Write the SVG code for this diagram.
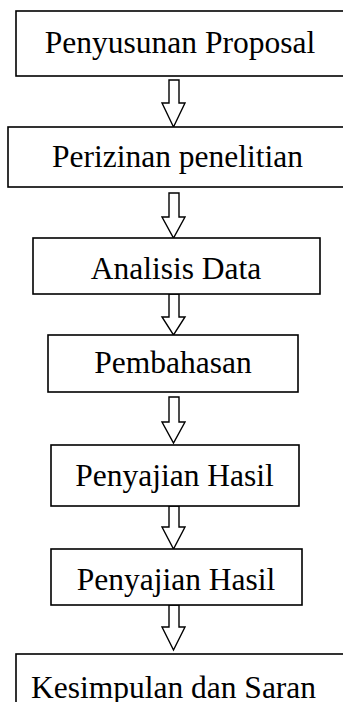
<svg xmlns="http://www.w3.org/2000/svg" width="343" height="702" viewBox="0 0 343 702">
<style>
.box{fill:#fff;stroke:#000;stroke-width:1.6}
.arr{fill:#fff;stroke:#000;stroke-width:1.4;stroke-linejoin:miter}
text{font-family:"Liberation Serif","Times New Roman",serif;font-size:31.5px;fill:#000;text-anchor:middle}
</style>
<rect width="343" height="702" fill="#fff"/>
<g id="connectors">
<path class="arr" d="M169,80H179V103H185L173.5,127L162,103H169Z"/>
<path class="arr" d="M169,193H179V217H185L173.5,238L162,217H169Z"/>
<path class="arr" d="M169,294H179V317H185L173.5,335L162,317H169Z"/>
<path class="arr" d="M169,397H179V422H185L173.5,443L162,422H169Z"/>
<path class="arr" d="M169,506H179V527H185L173.5,549L162,527H169Z"/>
<path class="arr" d="M169,605H179V627H185L173.5,650L162,627H169Z"/>
</g>
<g id="n1"><rect class="box" x="16" y="11" width="340" height="65"/><text x="180" y="53">Penyusunan Proposal</text></g>
<g id="n2"><rect class="box" x="8" y="127" width="350" height="60"/><text x="177.5" y="167">Perizinan penelitian</text></g>
<g id="n3"><rect class="box" x="33" y="238" width="287" height="56"/><text x="176" y="279">Analisis Data</text></g>
<g id="n4"><rect class="box" x="48" y="335" width="250" height="57"/><text x="173" y="373">Pembahasan</text></g>
<g id="n5"><rect class="box" x="51" y="445" width="248" height="61"/><text x="174.5" y="486">Penyajian Hasil</text></g>
<g id="n6"><rect class="box" x="51" y="549" width="251" height="56"/><text x="176" y="590">Penyajian Hasil</text></g>
<g id="n7"><rect class="box" x="16" y="654" width="340" height="60"/><text x="173.5" y="698">Kesimpulan dan Saran</text></g>
</svg>
